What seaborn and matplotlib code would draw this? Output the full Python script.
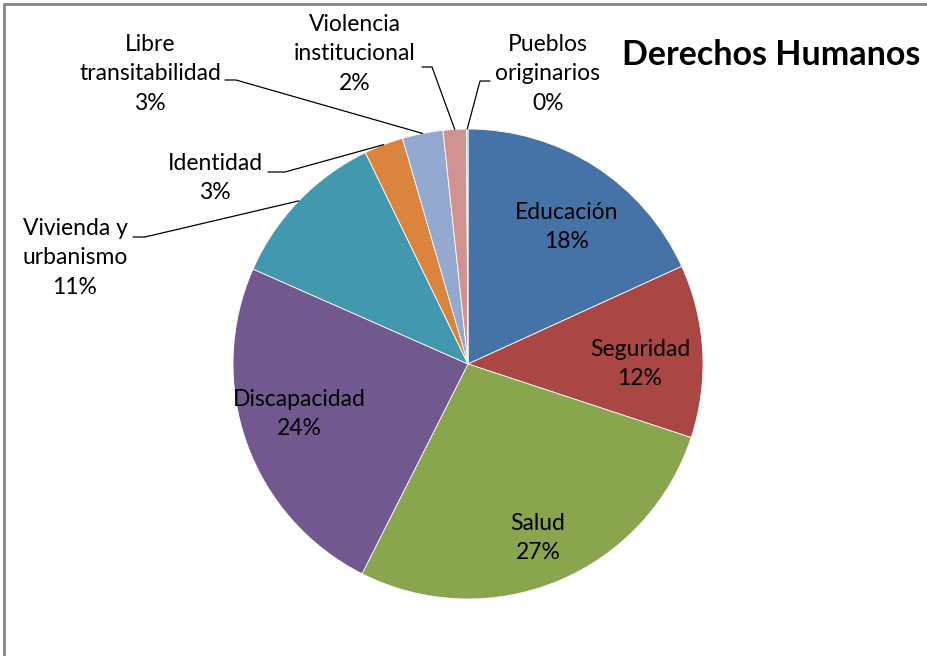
import matplotlib
matplotlib.use("Agg")
import matplotlib.pyplot as plt
from matplotlib.lines import Line2D
import numpy as np
import seaborn as sns

# ---- data ----
categories = ["Educación", "Seguridad", "Salud", "Discapacidad", "Vivienda y\nurbanismo",
              "Identidad", "Libre\ntransitabilidad", "Violencia\ninstitucional", "Pueblos\noriginarios"]
shares = [18.2, 11.9, 27.4, 24.2, 11.2, 2.7, 2.8, 1.6, 0.1]
pct_labels = ["18%", "12%", "27%", "24%", "11%", "3%", "3%", "2%", "0%"]
colors = ["#4572A7", "#AA4643", "#89A54E", "#71588F", "#4198AF",
          "#DB843D", "#93A9CF", "#D19392", "#B9CD96"]
title = "Derechos Humanos"

sns.set_theme(style="white")
plt.rcParams["font.family"] = ["Lato", "DejaVu Sans"]

W, H = 927, 656
fig = plt.figure(figsize=(W / 100, H / 100), dpi=100)
fig.patch.set_facecolor("white")

cx, cy, R = 468, 364, 235
ax = fig.add_axes([(cx - R) / W, (H - cy - R) / H, 2 * R / W, 2 * R / H])

wedges, _ = ax.pie(shares, colors=colors, startangle=90, counterclock=False, radius=1,
                   wedgeprops=dict(edgecolor="white", linewidth=0.6))
ax.set_xlim(-1, 1)
ax.set_ylim(-1, 1)
ax.set_aspect("equal")
ax.axis("off")


def px(x, y):
    return ((x - cx) / R, (cy - y) / R)


# label centres (pixel layout)
label_pos = [(567, 227), (640, 364), (538, 538), (299, 414), (75, 258),
             (215, 178), (150, 74), (355, 54), (548, 74)]
fs = 16.5
for cat, pl, pos in zip(categories, pct_labels, label_pos):
    x, y = px(*pos)
    ax.text(x, y, f"{cat}\n{pl}", ha="center", va="center", fontsize=fs,
            linespacing=1.5, color="#000000", clip_on=False)

# leader lines for outside labels: (slice index, start px, knee px)
leaders = [
    (4, (133, 237), (145, 237)),
    (5, (268, 172), (285, 172)),
    (6, (225, 80), (236, 80)),
    (7, (422, 67), (432, 67)),
    (8, (490, 81), (480, 81)),
]
for idx, s, k in leaders:
    w = wedges[idx]
    mid = np.deg2rad((w.theta1 + w.theta2) / 2)
    ex, ey = np.cos(mid), np.sin(mid)
    sx, sy = px(*s)
    kx, ky = px(*k)
    ax.plot([sx, kx, ex], [sy, ky, ey], color="black", lw=0.9, clip_on=False,
            solid_joinstyle="miter")

fig.text(622 / W, 1 - 55 / H, title, ha="left", va="center", fontsize=24.5,
         fontweight="bold", color="black")

# chart frame (only top and left visible)
fig.add_artist(Line2D([4 / W, 1], [1 - 4 / H, 1 - 4 / H], transform=fig.transFigure,
                      color="#868686", lw=2))
fig.add_artist(Line2D([4 / W, 4 / W], [0, 1 - 4 / H], transform=fig.transFigure,
                      color="#868686", lw=2))

fig.savefig("out.png", dpi=100, facecolor="white")
